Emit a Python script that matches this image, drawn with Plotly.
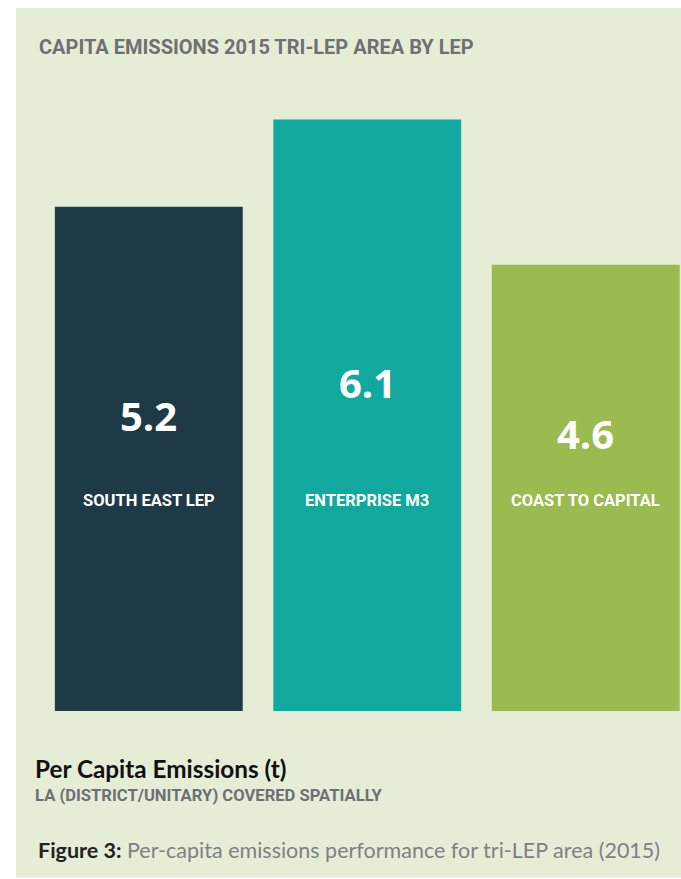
import plotly.graph_objects as go

# données
lep = ["South East LEP", "Enterprise M3", "Coast to Capital"]
emissions = [5.2, 6.1, 4.6]
couleurs = ["#1f3a47", "#13a89e", "#9bbb50"]

# hauteur des étiquettes de valeur dans les barres (unités de données)
y_etiquettes = [3.05, 3.39, 2.86]

fond = "#e5edd6"
condensee = "Roboto, sans-serif"

figure = go.Figure()
figure.add_trace(go.Bar(
    x=lep,
    y=emissions,
    marker=dict(color=couleurs, line=dict(width=0)),
    hoverinfo="x+y",
))

# cadre vert pâle derrière le graphique
figure.add_shape(type="rect", xref="paper", yref="paper",
                 x0=-0.0374, x1=1.01, y0=-0.273, y1=1.1506,
                 fillcolor=fond, line=dict(width=0), layer="below")

annotations = []
for nom, val, yl in zip(lep, emissions, y_etiquettes):
    annotations.append(dict(x=nom, y=yl, xref="x", yref="y", text="<b>%.1f</b>" % val,
                            showarrow=False, yanchor="middle",
                            font=dict(family="Open Sans", size=40, color="white")))
    annotations.append(dict(x=nom, y=0.3453, xref="x", yref="paper", text="<b>" + nom.upper() + "</b>",
                            showarrow=False, yanchor="middle",
                            font=dict(family=condensee, size=16.5, color="white")))

annotations += [
    dict(x=-0.0047, y=1.0867, xref="paper", yref="paper", xanchor="left", yanchor="middle", showarrow=False,
         text="<b>CAPITA EMISSIONS 2015 TRI-LEP AREA BY LEP</b>",
         font=dict(family=condensee, size=20, color="#6f7073")),
    dict(x=-0.0109, y=-0.0949, xref="paper", yref="paper", xanchor="left", yanchor="middle", showarrow=False,
         text="<b>Per Capita Emissions (t)</b>",
         font=dict(family="Lato", size=24.3, color="#111111")),
    dict(x=-0.0109, y=-0.139, xref="paper", yref="paper", xanchor="left", yanchor="middle", showarrow=False,
         text="<b>LA (DISTRICT/UNITARY) COVERED SPATIALLY</b>",
         font=dict(family=condensee, size=16.6, color="#6f7073")),
    dict(x=-0.0062, y=-0.2275, xref="paper", yref="paper", xanchor="left", yanchor="middle", showarrow=False,
         text="<b><span style='color:#222222'>Figure 3:</span></b> Per-capita emissions performance for tri-LEP area (2015)",
         font=dict(family="Lato", size=21.5, color="#808184")),
]

figure.update_layout(
    width=681, height=879,
    margin=dict(l=40, r=0, t=100, b=168),
    paper_bgcolor="white",
    plot_bgcolor="rgba(0,0,0,0)",
    bargap=0.14,
    showlegend=False,
    annotations=annotations,
    xaxis=dict(range=[-0.498, 2.436], showticklabels=False, showgrid=False, zeroline=False, fixedrange=True),
    yaxis=dict(range=[0, 6.3], showticklabels=False, showgrid=False, zeroline=False, fixedrange=True),
)

# pas de marge autour du graphique dans la page, pas de barre d'outils
figure.write_html("out.html", config={"displayModeBar": False},
                  post_script="document.body.style.margin='0';document.body.style.overflow='hidden';")
print("out.html généré")
